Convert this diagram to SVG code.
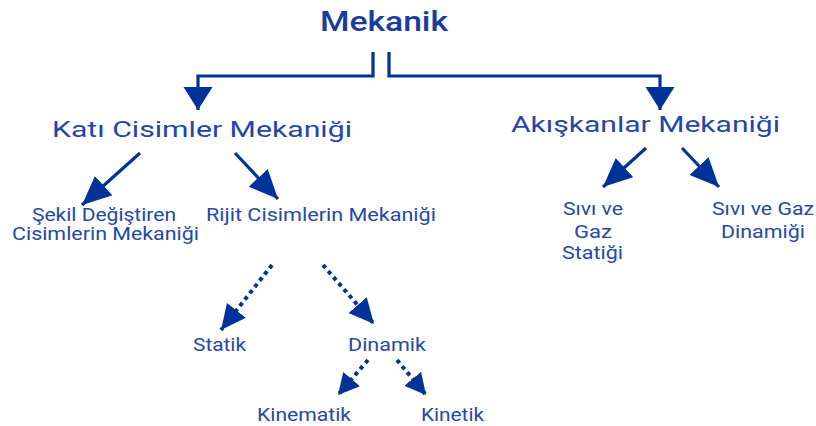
<svg xmlns="http://www.w3.org/2000/svg" width="816" height="426" viewBox="0 0 816 426">
  <style>
    .t { font-family: Roboto, "Liberation Sans", sans-serif; fill: #2449a8; text-anchor: middle; }
    .title { font-size: 28px; font-weight: 500; fill: #1a3c9f; }
    .h2 { font-size: 22px; fill: #1f46ad; }
    .leaf { font-size: 18px; }
    .ln { fill: none; stroke: #003399; stroke-width: 3.2; }
    .dot { fill: none; stroke: #003399; stroke-width: 4; stroke-dasharray: 4 4; }
  </style>
  <defs>
    <marker id="ahTop" markerUnits="userSpaceOnUse" markerWidth="24" markerHeight="30" refX="23" refY="14.5" orient="auto">
      <path d="M0,0 L23,14.5 L0,29 z" fill="#003399"/>
    </marker>
    <marker id="ahBig" markerUnits="userSpaceOnUse" markerWidth="30" markerHeight="28" refX="29" refY="13" orient="auto">
      <path d="M0,0 L29,13 L0,26 z" fill="#003399"/>
    </marker>
    <marker id="ahMid" markerUnits="userSpaceOnUse" markerWidth="26" markerHeight="26" refX="25" refY="12" orient="auto">
      <path d="M0,0 L25,12 L0,24 z" fill="#003399"/>
    </marker>
    <marker id="ahSmall" markerUnits="userSpaceOnUse" markerWidth="22" markerHeight="24" refX="21" refY="11" orient="auto">
      <path d="M0,0 L21,11 L0,22 z" fill="#003399"/>
    </marker>
  </defs>

  <g id="connectors">
    <path class="ln" d="M373,52 V76 H198 V110" marker-end="url(#ahTop)"/>
    <path class="ln" d="M389,52 V76 H660 V110" marker-end="url(#ahTop)"/>
    <line class="ln" x1="140" y1="153" x2="82" y2="205" marker-end="url(#ahBig)"/>
    <line class="ln" x1="235" y1="153" x2="278" y2="199" marker-end="url(#ahBig)"/>
    <line class="ln" x1="646" y1="148" x2="603" y2="187" marker-end="url(#ahBig)"/>
    <line class="ln" x1="682" y1="148" x2="719" y2="187" marker-end="url(#ahBig)"/>
    <line class="dot" x1="272" y1="265" x2="221" y2="330" marker-end="url(#ahMid)"/>
    <line class="dot" x1="323" y1="265" x2="374" y2="324" marker-end="url(#ahMid)"/>
    <line class="dot" x1="368" y1="360" x2="338" y2="395" marker-end="url(#ahSmall)"/>
    <line class="dot" x1="397" y1="360" x2="426" y2="395" marker-end="url(#ahSmall)"/>
  </g>

  <g id="mekanik"><text class="t title" x="384" y="31" textLength="128" lengthAdjust="spacingAndGlyphs">Mekanik</text></g>
  <g id="kati"><text class="t h2" x="202" y="137" textLength="300" lengthAdjust="spacingAndGlyphs">Katı Cisimler Mekaniği</text></g>
  <g id="akiskanlar"><text class="t h2" x="645.5" y="132" textLength="269" lengthAdjust="spacingAndGlyphs">Akışkanlar Mekaniği</text></g>
  <g id="sekil">
    <text class="t leaf" x="104" y="221" textLength="144" lengthAdjust="spacingAndGlyphs">Şekil Değiştiren</text>
    <text class="t leaf" x="105.5" y="240" textLength="187" lengthAdjust="spacingAndGlyphs">Cisimlerin Mekaniği</text>
  </g>
  <g id="rijit"><text class="t leaf" x="321" y="221" textLength="230" lengthAdjust="spacingAndGlyphs">Rijit Cisimlerin Mekaniği</text></g>
  <g id="sivi-statik">
    <text class="t leaf" x="593" y="215" textLength="60" lengthAdjust="spacingAndGlyphs">Sıvı ve</text>
    <text class="t leaf" x="593" y="238" textLength="38" lengthAdjust="spacingAndGlyphs">Gaz</text>
    <text class="t leaf" x="592.5" y="259" textLength="61" lengthAdjust="spacingAndGlyphs">Statiği</text>
  </g>
  <g id="sivi-dinamik">
    <text class="t leaf" x="763" y="215" textLength="102" lengthAdjust="spacingAndGlyphs">Sıvı ve Gaz</text>
    <text class="t leaf" x="763" y="238" textLength="84" lengthAdjust="spacingAndGlyphs">Dinamiği</text>
  </g>
  <g id="statik"><text class="t leaf" x="219.5" y="351" textLength="53" lengthAdjust="spacingAndGlyphs">Statik</text></g>
  <g id="dinamik"><text class="t leaf" x="387" y="351" textLength="78" lengthAdjust="spacingAndGlyphs">Dinamik</text></g>
  <g id="kinematik"><text class="t leaf" x="304" y="421" textLength="94" lengthAdjust="spacingAndGlyphs">Kinematik</text></g>
  <g id="kinetik"><text class="t leaf" x="452.5" y="421" textLength="63" lengthAdjust="spacingAndGlyphs">Kinetik</text></g>
</svg>
